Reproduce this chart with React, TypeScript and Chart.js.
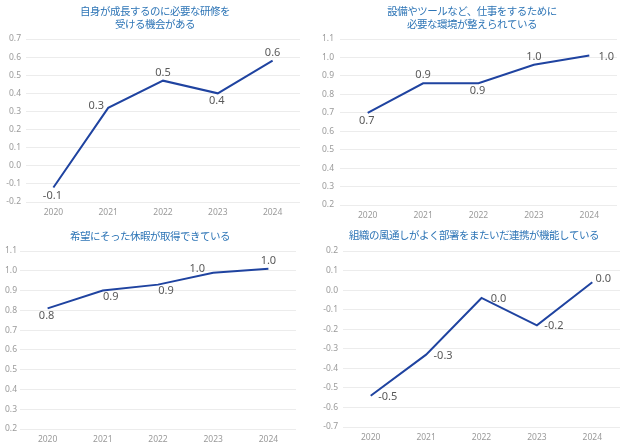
import React, { useEffect, useRef } from 'react';
import Chart from 'chart.js/auto';

// ---- data ----
const years = ['2020', '2021', '2022', '2023', '2024'];

const title1 = ['自身が成長するのに必要な研修を', '受ける機会がある'];
const values1 = [-0.12, 0.32, 0.47, 0.4, 0.58];
const labelPos1 = ['below', 'left', 'above', 'below', 'above'];

const title2 = ['設備やツールなど、仕事をするために', '必要な環境が整えられている'];
const values2 = [0.7, 0.86, 0.86, 0.96, 1.01];
const labelPos2 = ['below', 'above', 'below', 'above', 'right'];

const title3 = ['希望にそった休暇が取得できている'];
const values3 = [0.81, 0.9, 0.93, 0.99, 1.01];
const labelPos3 = ['below', 'belowRight', 'belowRight', 'aboveLeft', 'above'];

const title4 = ['組織の風通しがよく部署をまたいだ連携が機能している'];
const values4 = [-0.54, -0.33, -0.04, -0.18, 0.04];
const labelPos4 = ['right', 'right', 'right', 'right', 'rightUp'];

const LINE_COLOR = '#1f43a0';
const TITLE_COLOR = '#2e75b6';

const offsets: Record<string, [number, number]> = {
  above: [0, -8],
  below: [-1, 8],
  left: [-12, -2],
  right: [17, 1],
  rightUp: [11, -3],
  belowRight: [8, 6],
  aboveLeft: [-16, -4],
};

const fmt = (v: number) => (Math.round(v * 10) / 10).toFixed(1);

interface Area { l: number; r: number; t: number; b: number }

interface PanelProps {
  left: number;
  top: number;
  width: number;
  height: number;
  title: string[];
  titleX: number;
  titleY: number[];
  values: number[];
  labelPos: string[];
  yMin: number;
  yMax: number;
  area: Area;
  yPad: number;
}

const Panel: React.FC<PanelProps> = (p) => {
  const canvasRef = useRef<HTMLCanvasElement>(null);
  const chartInstance = useRef<Chart | null>(null);

  useEffect(() => {
    if (!canvasRef.current) return;
    if (chartInstance.current) chartInstance.current.destroy();

    const labelPlugin = {
      id: 'pointLabels',
      afterDatasetsDraw(chart: any) {
        const ctx = chart.ctx;
        const meta = chart.getDatasetMeta(0);
        ctx.save();
        ctx.font = '11px "Noto Sans", sans-serif';
        ctx.fillStyle = '#595959';
        ctx.textAlign = 'center';
        ctx.textBaseline = 'middle';
        meta.data.forEach((pt: any, i: number) => {
          const [dx, dy] = offsets[p.labelPos[i]];
          ctx.fillText(fmt(p.values[i]), pt.x + dx, pt.y + dy);
        });
        ctx.restore();
      },
    };

    const titlePlugin = {
      id: 'panelTitle',
      afterDraw(chart: any) {
        const ctx = chart.ctx;
        ctx.save();
        ctx.font = '10.5px "Noto Sans CJK JP", sans-serif';
        (ctx as any).letterSpacing = '-0.5px';
        ctx.fillStyle = TITLE_COLOR;
        ctx.textAlign = 'center';
        ctx.textBaseline = 'middle';
        p.title.forEach((line, i) => ctx.fillText(line, p.titleX, p.titleY[i]));
        ctx.restore();
      },
    };

    chartInstance.current = new Chart(canvasRef.current, {
      type: 'line',
      data: {
        labels: years,
        datasets: [{
          data: p.values,
          borderColor: LINE_COLOR,
          borderWidth: 2,
          pointRadius: 0,
          tension: 0,
          fill: false,
          clip: false as any,
        }],
      },
      options: {
        animation: false,
        responsive: true,
        maintainAspectRatio: false,
        layout: {
          padding: { left: 0, top: p.area.t, right: p.width - p.area.r, bottom: 0 },
        },
        plugins: {
          legend: { display: false },
          tooltip: { enabled: false },
          title: { display: false },
        },
        scales: {
          x: {
            offset: true,
            grid: { display: false, drawTicks: false },
            border: { display: false },
            ticks: {
              color: '#9a9a9a',
              font: { size: 8.5, family: '"Noto Sans", sans-serif' },
              padding: 5,
              maxRotation: 0,
            },
            afterFit: (s: any) => { s.height = p.height - p.area.b; },
          },
          y: {
            min: p.yMin,
            max: p.yMax,
            grid: { color: '#ececec', drawTicks: false },
            border: { display: false },
            ticks: {
              stepSize: 0.1,
              color: '#9a9a9a',
              font: { size: 8.5, family: '"Noto Sans", sans-serif' },
              padding: p.yPad,
              callback: (v: any) => fmt(Number(v)),
            },
            afterFit: (s: any) => { s.width = p.area.l; },
          },
        },
      },
      plugins: [labelPlugin, titlePlugin],
    });

    return () => {
      if (chartInstance.current) {
        chartInstance.current.destroy();
        chartInstance.current = null;
      }
    };
  }, []);

  return (
    <div style={{ position: 'absolute', left: p.left, top: p.top, width: p.width, height: p.height }}>
      <canvas ref={canvasRef}></canvas>
    </div>
  );
};

const App: React.FC = () => {
  return (
    <div style={{ position: 'absolute', left: 0, top: 0, width: 624, height: 443, background: '#fff' }}>
      <Panel left={0} top={0} width={312} height={220} title={title1} titleX={155} titleY={[11, 24]}
        values={values1} labelPos={labelPos1} yMin={-0.2} yMax={0.7}
        area={{ l: 26, r: 300, t: 39, b: 202 }} yPad={5} />
      <Panel left={312} top={0} width={312} height={220} title={title2} titleX={160} titleY={[11, 24]}
        values={values2} labelPos={labelPos2} yMin={0.2} yMax={1.1}
        area={{ l: 28, r: 305, t: 39, b: 205 }} yPad={6} />
      <Panel left={0} top={220} width={312} height={223} title={title3} titleX={150} titleY={[16]}
        values={values3} labelPos={labelPos3} yMin={0.2} yMax={1.1}
        area={{ l: 20, r: 296, t: 31, b: 209 }} yPad={3} />
      <Panel left={312} top={220} width={312} height={223} title={title4} titleX={162} titleY={[15]}
        values={values4} labelPos={labelPos4} yMin={-0.7} yMax={0.2}
        area={{ l: 31, r: 308, t: 31, b: 207 }} yPad={5} />
    </div>
  );
};

export default App;
